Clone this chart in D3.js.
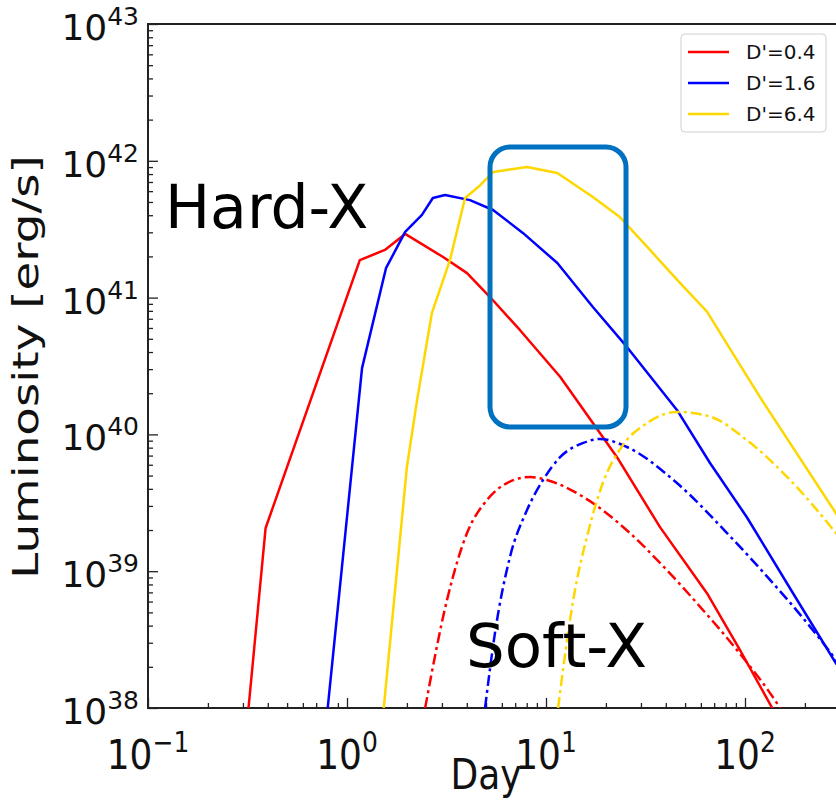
<!DOCTYPE html>
<html>
<head>
<meta charset="utf-8">
<script src="https://cdn.jsdelivr.net/npm/d3@7"></script>
<style>
  body { margin: 0; background: #fff; }
  svg { display: block; }
  text { font-family: "DejaVu Sans", sans-serif; }
</style>
</head>
<body>
<script>
// luminosity curves: [day, erg/s]
let hardRed = [[0.32, 1e38], [0.39, 2.07e39], [1.16, 1.88e41], [1.55, 2.23e41], [1.96, 2.92e41],
  [3.04, 1.98e41], [4.01, 1.51e41], [5.23, 1.01e41], [7.39, 5.8e40], [11.8, 2.63e40],
  [17.2, 1.21e40], [22.7, 6.84e39], [37.4, 2.1e39], [64.4, 6.9e38], [94.4, 2.65e38],
  [137, 1.0e38], [150, 7.6e37]];
let hardBlue = [[0.80, 1e38], [1.19, 3.05e40], [1.57, 1.64e41], [1.96, 3.02e41], [2.38, 4.02e41],
  [2.70, 5.35e41], [3.11, 5.62e41], [4.15, 5.16e41], [5.42, 4.37e41], [7.65, 2.97e41],
  [11.4, 1.79e41], [17.2, 8.53e40], [25.5, 4.36e40], [45.5, 1.51e40], [66.7, 6.18e39],
  [102, 2.49e39], [174, 6.93e38], [286, 2.13e38], [380, 1.15e38]];
let hardGold = [[1.53, 1e38], [2.00, 5.78e39], [2.25, 1.78e40], [2.67, 7.71e40], [3.29, 1.88e41],
  [3.92, 5.35e41], [4.66, 6.6e41], [5.42, 8.28e41], [8.03, 9.01e41], [11.4, 8.15e41],
  [17.2, 5.43e41], [23.5, 3.88e41], [33.3, 2.23e41], [47.1, 1.28e41], [64.4, 7.9e40],
  [87, 3.9e40], [119, 1.87e40], [286, 2.66e39], [380, 1.2e39]];
let softRed = [[2.47, 1e38], [3.18, 6.15e38], [4.01, 1.9e39], [5.05, 3.31e39], [6.37, 4.41e39],
  [8.31, 4.88e39], [10.1, 4.64e39], [15.4, 3.49e39], [26.4, 1.9e39], [37.4, 1.15e39],
  [61.5, 5.2e38], [91.2, 2.65e38], [150, 1.0e38], [165, 8e37]];
let softBlue = [[4.94, 1e38], [5.54, 3.53e38], [6.59, 1.27e39], [8.03, 2.8e39], [9.66, 4.64e39],
  [11.8, 6.84e39], [15.4, 8.66e39], [18.7, 9.26e39], [25.5, 8.09e39], [45.5, 4.41e39],
  [81.2, 1.9e39], [138, 8.2e38], [195, 4.57e38], [286, 2.24e38], [380, 1.2e38]];
let softGold = [[11.5, 1e38], [13.7, 6.15e38], [16.3, 1.94e39], [19.3, 4.41e39], [24.4, 8.38e39],
  [32.2, 1.21e40], [45.5, 1.46e40], [66.7, 1.35e40], [102, 9.1e39], [163, 4.88e39],
  [286, 1.9e39], [380, 1.1e39]];

let legendLabels = ["D'=0.4", "D'=1.6", "D'=6.4"];
let seriesColors = ["#ff0000", "#0000ff", "#ffd700"];
let xTickPowers = [-1, 0, 1, 2, 3];
let xLabelPowers = [-1, 0, 1, 2];
let yTickPowers = [38, 39, 40, 41, 42, 43];

let svgWidth = 836;
let svgHeight = 801;

let svg = d3.select('body')
  .append('svg')
  .attr('width', svgWidth)
  .attr('height', svgHeight);

let x = d3.scaleLog().domain([0.1, 1000]).range([148, 944]);
let y = d3.scaleLog().domain([1e38, 1e43]).range([708, 24]);

// minor tick values, 2..9 in each decade
let minorX = [];
xTickPowers.slice(0, -1).forEach(p => { for (let k = 2; k < 10; k++) minorX.push(k * Math.pow(10, p)); });
let minorY = [];
yTickPowers.slice(0, -1).forEach(p => { for (let k = 2; k < 10; k++) minorY.push(k * Math.pow(10, p)); });

svg.append('defs').append('clipPath').attr('id', 'plot-clip')
  .append('rect').attr('x', 148).attr('y', 24).attr('width', 796).attr('height', 684);

// axes: ticks point inward
let xMajor = svg.append('g').attr('transform', 'translate(0,708)')
  .call(d3.axisBottom(x).tickValues(xTickPowers.map(p => Math.pow(10, p))).tickSize(-10).tickFormat(''));
let xMinor = svg.append('g').attr('transform', 'translate(0,708)')
  .call(d3.axisBottom(x).tickValues(minorX).tickSize(-5).tickFormat(''));
let yMajor = svg.append('g').attr('transform', 'translate(148,0)')
  .call(d3.axisLeft(y).tickValues(yTickPowers.map(p => Math.pow(10, p))).tickSize(-10).tickFormat(''));
let yMinor = svg.append('g').attr('transform', 'translate(148,0)')
  .call(d3.axisLeft(y).tickValues(minorY).tickSize(-5).tickFormat(''));

[xMajor, xMinor, yMajor, yMinor].forEach(g => {
  g.select('.domain').remove();
  g.selectAll('line').attr('stroke', '#222').attr('stroke-width', 1.3);
});

// spines
svg.append('path')
  .attr('d', 'M944,24 H148 V708 H944')
  .attr('fill', 'none')
  .attr('stroke', '#222')
  .attr('stroke-width', 2);

// tick labels as 10 with superscript
yTickPowers.forEach(p => {
  let t = svg.append('text')
    .attr('x', 139)
    .attr('y', y(Math.pow(10, p)) + 16)
    .attr('text-anchor', 'end')
    .attr('fill', '#111');
  t.append('tspan').attr('font-size', 36).text('10');
  t.append('tspan').attr('font-size', 25).attr('dy', -15).text(p);
});

xLabelPowers.forEach(p => {
  let t = svg.append('text')
    .attr('transform', `translate(${x(Math.pow(10, p))},769) scale(1,1.12)`)
    .attr('text-anchor', 'middle')
    .attr('fill', '#111');
  t.append('tspan').attr('font-size', 36).text('10');
  t.append('tspan').attr('font-size', 25).attr('dy', -15).text(p < 0 ? '\u2212' + (-p) : p);
});

svg.append('text')
  .attr('transform', 'translate(38,367) rotate(-90) scale(1.3,1)')
  .attr('text-anchor', 'middle')
  .attr('font-size', 36)
  .attr('fill', '#111')
  .text('Luminosity [erg/s]');

svg.append('text')
  .attr('transform', 'translate(486,789) scale(1,1.2)')
  .attr('text-anchor', 'middle')
  .attr('font-size', 36)
  .attr('fill', '#111')
  .text('Day');

let hardLine = d3.line()
  .x(d => x(d[0]))
  .y(d => y(d[1]));

let softLine = d3.line()
  .curve(d3.curveMonotoneX)
  .x(d => x(d[0]))
  .y(d => y(d[1]));

let plot = svg.append('g').attr('clip-path', 'url(#plot-clip)');

let curves = [
  { data: hardRed, color: seriesColors[0], soft: false },
  { data: hardBlue, color: seriesColors[1], soft: false },
  { data: hardGold, color: seriesColors[2], soft: false },
  { data: softRed, color: seriesColors[0], soft: true },
  { data: softBlue, color: seriesColors[1], soft: true },
  { data: softGold, color: seriesColors[2], soft: true }
];

plot.selectAll('.curve')
  .data(curves)
  .enter()
  .append('path')
  .classed('curve', true)
  .attr('d', d => d.soft ? softLine(d.data) : hardLine(d.data))
  .attr('fill', 'none')
  .attr('stroke', d => d.color)
  .attr('stroke-width', 2.5)
  .attr('stroke-linejoin', 'round')
  .attr('stroke-dasharray', d => d.soft ? '11,4,3,4' : null);

// legend
let legend = svg.append('g').attr('transform', 'translate(681,34)');
legend.append('rect')
  .attr('width', 145)
  .attr('height', 98)
  .attr('rx', 4)
  .attr('fill', '#fff')
  .attr('stroke', '#d0d0d0')
  .attr('stroke-width', 1);

legendLabels.forEach((label, i) => {
  let row = legend.append('g').attr('transform', `translate(0, ${18 + i * 31})`);
  row.append('line')
    .attr('x1', 7).attr('x2', 48)
    .attr('stroke', seriesColors[i])
    .attr('stroke-width', 2.5);
  row.append('text')
    .attr('x', 65)
    .attr('y', 7)
    .attr('font-size', 20)
    .attr('fill', '#111')
    .text(label);
});

// annotations added on top of the figure
svg.append('rect')
  .attr('x', 490).attr('y', 147)
  .attr('width', 136).attr('height', 280)
  .attr('rx', 20)
  .attr('fill', 'none')
  .attr('stroke', '#0070c0')
  .attr('stroke-width', 5);

svg.append('text')
  .attr('x', 165).attr('y', 228)
  .attr('font-family', '"Liberation Sans", Arial, sans-serif')
  .attr('font-size', 60)
  .attr('fill', '#000')
  .text('Hard-X');

svg.append('text')
  .attr('x', 466).attr('y', 667)
  .attr('font-family', '"Liberation Sans", Arial, sans-serif')
  .attr('font-size', 61)
  .attr('fill', '#000')
  .text('Soft-X');
</script>
</body>
</html>
